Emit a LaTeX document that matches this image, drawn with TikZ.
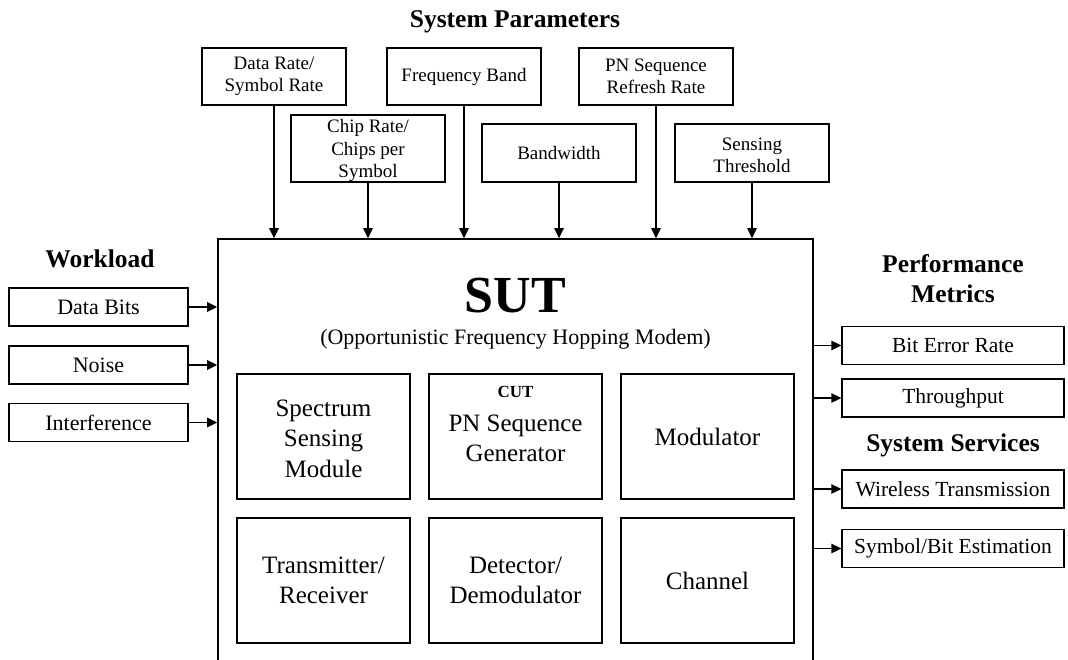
\documentclass[tikz,border=0pt]{standalone}
\usepackage{fontspec}
\setmainfont{Liberation Serif}
\usetikzlibrary{arrows.meta}
\begin{document}
\begin{tikzpicture}[x=1pt,y=-1pt, line width=1.3pt,
  box/.style={draw, inner sep=0pt, align=center},
  tbox/.style={box, minimum width=154pt, font=\fontsize{19}{22.5}\selectfont},
  txt/.style={inner sep=0pt, align=center},
  sbox/.style={box, minimum width=179pt, minimum height=38pt, font=\fontsize{22}{26}\selectfont},
  rbox/.style={box, minimum width=222pt, minimum height=38pt, font=\fontsize{21.5}{26}\selectfont},
  ibox/.style={box, minimum width=173pt, minimum height=125pt, font=\fontsize{25}{30.5}\selectfont},
  title/.style={font=\bfseries\fontsize{25.5}{30}\selectfont, align=center, inner sep=0pt},
  arr/.style={-{Triangle[length=10pt,width=9.5pt]}}]
\clip (0,0) rectangle (1068,660);

% title
\node[title, anchor=base] (tpar) at (515,28) {System Parameters};

% parameter boxes
\node[tbox, minimum width=144pt, minimum height=57pt] (p1) at (274,76.5) {Data Rate/\\Symbol Rate};
\node[tbox, minimum height=57pt] (p3) at (464,76.5) {Frequency Band};
\node[tbox, minimum height=57pt] (p5) at (656,76.5) {PN Sequence\\Refresh Rate};
\node[tbox, minimum height=67pt] (p2) at (368,148.5) {};
\node[txt, font=\fontsize{19}{22.5}\selectfont] (p2t) at (368,150.5) {Chip Rate/\\Chips per\\Symbol};
\node[tbox, minimum height=58pt] (p4) at (559,153) {Bandwidth};
\node[tbox, minimum height=58pt] (p6) at (752,153) {};
\node[txt, font=\fontsize{19}{22.5}\selectfont] (p6t) at (752,155.5) {Sensing\\Threshold};

% SUT
\node[draw, line width=1.7pt, inner sep=0pt, minimum width=595pt, minimum height=430pt] (sut) at (515.5,454) {};
\node[inner sep=0pt, font=\bfseries\fontsize{52}{52}\selectfont] (suttitle) at (515.5,295.5) {SUT};
\node[inner sep=0pt, font=\fontsize{22}{26}\selectfont] (sutsub) at (515.5,339) {(Opportunistic Frequency Hopping Modem)};

\node[ibox] (i1) at (323.5,436.5) {};
\node[txt, font=\fontsize{25}{30.5}\selectfont] (i1t) at (323.5,438.5) {Spectrum\\Sensing\\Module};
\node[ibox] (i2) at (515.5,436.5) {};
\node[txt, font=\fontsize{25}{30.5}\selectfont] (i2t) at (515.5,438.5) {PN Sequence\\Generator};
\node[inner sep=0pt, font=\bfseries\fontsize{17}{17}\selectfont] (cut) at (515.5,392) {CUT};
\node[ibox] (i3) at (707.5,436.5) {Modulator};
\node[ibox] (i4) at (323.5,580.5) {Transmitter/\\Receiver};
\node[ibox] (i5) at (515.5,580.5) {Detector/\\Demodulator};
\node[ibox] (i6) at (707.5,580.5) {Channel};

% parameter arrows
\foreach \p in {p1,p2,p3,p4,p5,p6}
  \draw[arr] (\p.south) -- (\p.south |- sut.north);

% workload
\node[title, anchor=base] (twl) at (100,268) {Workload};
\node[sbox] (w1) at (98.5,307) {Data Bits};
\node[sbox] (w2) at (98.5,365) {Noise};
\node[sbox] (w3) at (98.5,422.5) {Interference};
\foreach \w in {w1,w2,w3}
  \draw[arr] (\w.east) -- (\w.east -| sut.west);

% outputs
\node[title] (tpm) at (953,279) {Performance\\Metrics};
\node[rbox] (r1) at (953,345.5) {Bit Error Rate};
\node[rbox] (r2) at (953,398) {Throughput};
\node[title, anchor=base] (tss) at (953,451) {System Services};
\node[rbox] (r3) at (953,489) {Wireless Transmission};
\node[rbox] (r4) at (953,548.5) {Symbol/Bit Estimation};
\foreach \r in {r1,r2,r3,r4}
  \draw[arr] (\r.west -| sut.east) -- (\r.west);
\end{tikzpicture}
\end{document}
